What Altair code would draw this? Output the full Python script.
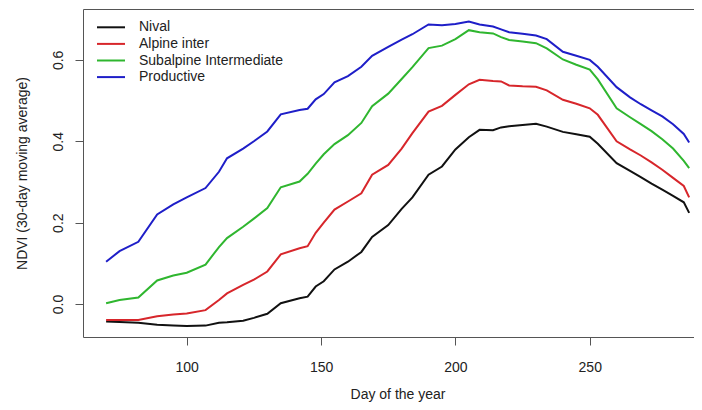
import altair as alt
import pandas as pd

days = [70, 75, 82, 89, 95, 100, 107, 112, 115, 121, 125, 130, 135, 142, 145, 148,
        151, 155, 160, 165, 169, 175, 180, 184, 190, 195, 200, 205, 209, 214, 217,
        220, 225, 230, 234, 240, 245, 250, 253, 260, 265, 269, 273, 277, 281, 285, 287]

nival = [-0.043, -0.044, -0.046, -0.051, -0.053, -0.054, -0.053, -0.046, -0.045, -0.041,
         -0.034, -0.024, 0.002, 0.014, 0.018, 0.043, 0.056, 0.085, 0.104, 0.128, 0.165,
         0.194, 0.234, 0.262, 0.318, 0.338, 0.380, 0.410, 0.428, 0.427, 0.434, 0.437,
         0.440, 0.443, 0.436, 0.423, 0.417, 0.411, 0.394, 0.346, 0.327, 0.312, 0.296,
         0.281, 0.266, 0.250, 0.224]

alpine = [-0.039, -0.039, -0.039, -0.030, -0.026, -0.023, -0.015, 0.010, 0.026, 0.047,
          0.060, 0.080, 0.122, 0.137, 0.142, 0.175, 0.200, 0.232, 0.252, 0.272, 0.318,
          0.342, 0.382, 0.420, 0.473, 0.487, 0.514, 0.540, 0.551, 0.548, 0.547, 0.537,
          0.535, 0.534, 0.525, 0.502, 0.492, 0.481, 0.465, 0.400, 0.380, 0.365, 0.348,
          0.330, 0.310, 0.290, 0.262]

subalpine = [0.002, 0.010, 0.016, 0.058, 0.070, 0.077, 0.097, 0.140, 0.162, 0.190,
             0.210, 0.236, 0.287, 0.301, 0.320, 0.345, 0.368, 0.393, 0.415, 0.445, 0.486,
             0.517, 0.553, 0.582, 0.629, 0.635, 0.651, 0.673, 0.668, 0.665, 0.656, 0.649,
             0.645, 0.641, 0.628, 0.601, 0.588, 0.576, 0.552, 0.481, 0.459, 0.442, 0.425,
             0.405, 0.382, 0.352, 0.334]

productive = [0.104, 0.130, 0.153, 0.220, 0.245, 0.262, 0.285, 0.325, 0.358, 0.382,
              0.400, 0.424, 0.466, 0.477, 0.480, 0.503, 0.516, 0.545, 0.560, 0.583, 0.610,
              0.632, 0.650, 0.663, 0.687, 0.685, 0.688, 0.694, 0.687, 0.682, 0.675, 0.668,
              0.664, 0.660, 0.651, 0.620, 0.610, 0.600, 0.583, 0.533, 0.508, 0.491, 0.476,
              0.461, 0.442, 0.418, 0.397]

series_names = ["Nival", "Alpine inter", "Subalpine Intermediate", "Productive"]
series_colors = ["#111111", "#d7262b", "#2fb62f", "#1e1ec8"]
x_ticks = [100, 150, 200, 250]
y_ticks = [0.0, 0.2, 0.4, 0.6]

rows = []
for name, vals in zip(series_names, [nival, alpine, subalpine, productive]):
    for d, v in zip(days, vals):
        rows.append({"day": d, "ndvi": v, "series": name})
df = pd.DataFrame(rows)

FONT = "Liberation Sans"
TXT = "#222222"
AX = "#555555"

x_scale = alt.Scale(domain=[61.4, 288.8], nice=False, zero=False)
y_scale = alt.Scale(domain=[-0.081, 0.725], nice=False, zero=False)

y_axis = alt.Axis(
    title="NDVI (30-day moving average)", values=y_ticks, format=".1f",
    grid=False, domain=True, domainColor=AX, domainWidth=1,
    tickSize=8, tickColor=AX, tickWidth=1,
    labelAngle=270, labelAlign="center", labelBaseline="alphabetic",
    labelPadding=12.5, labelFontSize=14, labelFont=FONT, labelColor=TXT,
    labelFlush=False,
    titleFont=FONT, titleFontSize=14, titleFontWeight="normal", titleColor=TXT,
    titleAngle=270, titleX=-56.3, titleY=164, titleBaseline="alphabetic",
    titleAlign="center",
)

base = alt.Chart(df)

lines = base.mark_line(strokeWidth=2).encode(
    x=alt.X(
        "day:Q",
        scale=x_scale,
        axis=alt.Axis(
            orient="bottom",
            title="Day of the year", values=x_ticks, grid=False,
            domain=True, domainColor=AX, domainWidth=1,
            tickSize=8, tickColor=AX, tickWidth=1,
            labelPadding=26, labelBaseline="alphabetic", labelFontSize=14,
            labelFont=FONT, labelColor=TXT, labelFlush=False,
            titleFont=FONT, titleFontSize=14, titleFontWeight="normal", titleColor=TXT,
            titleX=314.5, titleY=61, titleBaseline="alphabetic", titleAlign="center",
        ),
    ),
    y=alt.Y("ndvi:Q", scale=y_scale, axis=y_axis),
    color=alt.Color(
        "series:N",
        scale=alt.Scale(domain=series_names, range=series_colors),
        sort=series_names,
        legend=alt.Legend(
            orient="none", legendX=20, legendY=10.3, title=None,
            symbolType="M-2,0H2", symbolSize=196, symbolStrokeWidth=2,
            labelOffset=20, rowPadding=1.6, padding=0,
            labelFontSize=14, labelFont=FONT, labelColor=TXT,
        ),
    ),
)

# invisible layer that only carries the top frame line (R box)
frame = base.mark_line(opacity=0).encode(
    x=alt.X(
        "day:Q",
        scale=x_scale,
        axis=alt.Axis(orient="top", labels=False, ticks=False, title="",
                      grid=False, domain=True, domainColor=AX, domainWidth=1),
    ),
    y=alt.Y("ndvi:Q", scale=y_scale, axis=y_axis),
)

chart = alt.layer(lines, frame).resolve_axis(x="independent").properties(
    width=611,
    height=328,
    padding={"left": 75, "top": 1, "right": 0, "bottom": 65},
    autosize=alt.AutoSizeParams(type="none"),
).configure_view(strokeWidth=0)

chart.save("out.html", embed_options={"renderer": "svg", "actions": False})
